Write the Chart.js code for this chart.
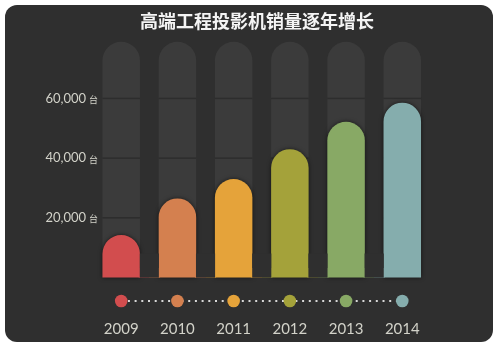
<!DOCTYPE html>
<html>
<head>
<meta charset="utf-8">
<script src="https://cdn.jsdelivr.net/npm/chart.js@4.4.1/dist/chart.umd.min.js"></script>
<style>
  html, body { margin: 0; background: #fff; }
  #card {
    position: absolute; left: 5px; top: 5px; width: 488px; height: 337px;
    border-radius: 12px; background: #2f2f2f;
  }
  #wrap { position: absolute; left: 0; top: 0; width: 500px; height: 350px; }
</style>
</head>
<body>
<div id="card"></div>
<div id="wrap"><canvas id="chart"></canvas></div>
<script>
const years = ['2009', '2010', '2011', '2012', '2013', '2014']
const sales = [14200, 26500, 33000, 43000, 52200, 58600]
const barColors = ['#d24d4e', '#d4804f', '#e5a33a', '#a4a23a', '#88a965', '#85adad']
const yTicks = [20000, 40000, 60000]
const unit = '台'

// levels for the decorative parts (same units as the y axis)
const trackTop = 79000
const baseBand = 3200
const notchTop = 8000
const dotRow = -7900

const BG = '#2f2f2f'
const TRACK = '#3b3b3b'
const TEXT = '#d2d2c9'
const last = years.length - 1

// slots on the helper axis: both outer edges plus the gaps between columns
const gapLabels = Array.from({ length: years.length + 1 }, (_, i) => String(i))
const inGaps = (v) => gapLabels.map((_, i) => (i > 0 && i < years.length ? v : null))

const columnRadius = (ctx) => ({
  topLeft: 40,
  topRight: 40,
  bottomLeft: ctx.dataIndex === 0 ? 12 : 0,
  bottomRight: ctx.dataIndex === last ? 12 : 0,
})

// the foot of each gap takes the colour of the column on either side
const splitFill = (ctx) => {
  const i = ctx.dataIndex
  const x2 = ctx.chart.scales.x2
  if (!x2 || i < 1 || i > last) return 'transparent'
  const px = x2.getPixelForValue(i)
  const g = ctx.chart.ctx.createLinearGradient(px - 12, 0, px + 12, 0)
  g.addColorStop(0, barColors[i - 1])
  g.addColorStop(0.5, barColors[i - 1])
  g.addColorStop(0.5, barColors[i])
  g.addColorStop(1, barColors[i])
  return g
}

const decor = {
  id: 'decor',
  beforeDatasetDraw(chart, args) {
    if (args.index !== 1) return
    const ctx = chart.ctx
    ctx.save()
    ctx.shadowColor = 'rgba(0,0,0,0.6)'
    ctx.shadowBlur = 4
  },
  afterDatasetDraw(chart, args) {
    const { ctx, scales: { y } } = chart
    if (args.index === 1) {
      ctx.restore()
      return
    }
    if (args.index !== 0) return
    // grid lines only show on the tracks
    ctx.save()
    ctx.fillStyle = '#2d2d2d'
    args.meta.data.forEach((bar) => {
      yTicks.forEach((v) => {
        const py = y.getPixelForValue(v)
        ctx.fillRect(bar.x - bar.width / 2, py - 0.75, bar.width, 1.5)
      })
    })
    ctx.restore()
  },
  afterDraw(chart) {
    const { ctx, scales: { y } } = chart
    ctx.save()
    ctx.font = '9px "Noto Sans CJK SC"'
    ctx.fillStyle = TEXT
    ctx.textAlign = 'left'
    ctx.textBaseline = 'alphabetic'
    y.ticks.forEach((t) => {
      ctx.fillText(unit, y.right - 4, y.getPixelForValue(t.value) + 4.6)
    })
    ctx.restore()
  },
}

new Chart(document.getElementById('chart').getContext('2d'), {
  type: 'bar',
  data: {
    labels: years,
    datasets: [
      {
        label: 'track',
        data: years.map(() => trackTop),
        backgroundColor: TRACK,
        grouped: false,
        barPercentage: 1,
        categoryPercentage: 0.667,
        borderRadius: columnRadius,
        order: 5,
      },
      {
        label: '销量',
        data: sales,
        backgroundColor: barColors,
        grouped: false,
        barPercentage: 1,
        categoryPercentage: 0.667,
        borderRadius: columnRadius,
        order: 4,
      },
      {
        label: 'band',
        xAxisID: 'x2',
        data: inGaps(baseBand),
        backgroundColor: splitFill,
        grouped: false,
        barPercentage: 1,
        categoryPercentage: 0.3733,
        order: 3,
      },
      {
        label: 'notch',
        xAxisID: 'x2',
        data: inGaps(notchTop),
        backgroundColor: BG,
        grouped: false,
        barPercentage: 1,
        categoryPercentage: 0.34,
        borderRadius: { bottomLeft: 40, bottomRight: 40 },
        order: 2,
      },
      {
        type: 'line',
        label: 'timeline',
        data: years.map(() => dotRow),
        borderColor: '#d8d8d8',
        borderWidth: 2,
        borderDash: [2, 4.7],
        pointRadius: 6.3,
        pointHoverRadius: 6.3,
        pointBorderWidth: 0,
        pointBackgroundColor: barColors,
        order: 1,
      },
    ],
  },
  options: {
    responsive: true,
    maintainAspectRatio: false,
    animation: false,
    events: [],
    layout: {
      padding: { left: 14, right: 0, top: 0, bottom: 1.7 },
    },
    scales: {
      x: {
        grid: { display: false, drawTicks: false },
        border: { display: false },
        ticks: {
          color: TEXT,
          font: { family: 'Lato', size: 15 },
          padding: 10,
        },
      },
      x2: {
        type: 'category',
        labels: gapLabels,
        offset: false,
        display: false,
      },
      y: {
        min: -11000,
        max: 80000,
        grid: { display: false, drawTicks: false },
        border: { display: false },
        afterBuildTicks: (scale) => {
          scale.ticks = yTicks.map((value) => ({ value }))
        },
        afterFit: (scale) => {
          scale.width = 79.1
        },
        ticks: {
          callback: (v) => v.toLocaleString('en-US'),
          color: TEXT,
          font: { family: 'Lato', size: 13 },
          padding: 7,
        },
      },
      yR: {
        position: 'right',
        min: 0,
        max: 1,
        grid: { display: false, drawTicks: false },
        border: { display: false },
        ticks: { display: false },
        afterFit: (scale) => {
          scale.width = 69.6
        },
      },
    },
    plugins: {
      legend: { display: false },
      tooltip: { enabled: false },
      title: {
        display: true,
        text: '高端工程投影机销量逐年增长',
        color: '#f4f4f4',
        font: { family: 'Noto Sans CJK SC', size: 18, weight: 'bold' },
        padding: { top: 10.7, bottom: 6.5 },
      },
    },
  },
  plugins: [decor],
})
</script>
</body>
</html>
